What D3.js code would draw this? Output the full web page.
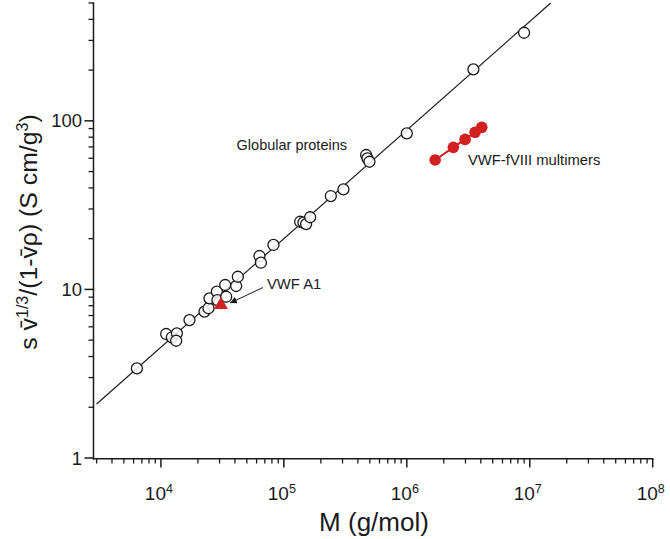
<!DOCTYPE html>
<html><head><meta charset="utf-8">
<script src="https://cdn.jsdelivr.net/npm/d3@7"></script>
<style>body{margin:0;background:#fff}svg{display:block}text{font-family:Arial,"Liberation Sans",sans-serif;fill:#1a1a1a}</style>
</head><body><div id="chart"></div>
<script>
// Globular proteins (M in g/mol, s-value quantity)
const globM = [6380,11040,12280,13490,13310,17080,22620,24370,24840,28520,28840,33340,33960,40940,42240,63350,65060,82290,135700,144300,151700,163600,241000,305200,466900,478600,496800,1000000,3480000,8990000];
const globS = [3.40,5.44,5.20,5.49,4.96,6.58,7.38,7.73,8.85,9.69,8.65,10.62,9.05,10.48,11.89,15.78,14.4,18.35,25.2,24.9,24.4,26.8,35.8,39.2,62.7,59.9,57.2,84.3,202,333];
// VWF A1
const a1M = [30760];
const a1S = [8.08];
// VWF-fVIII multimers
const multM = [1700000,2390000,2980000,3590000,4070000];
const multS = [58.6,69.6,77.6,85.5,91.5];
// fitted line endpoints
const fitM = [3000, 14800000];
const fitS = [2.09, 500];
// ticks
const xTicks = [1e4,1e5,1e6,1e7,1e8];
const xTickExp = ["4","5","6","7","8"];
const yTicks = [1,10,100];
const yTickLabels = ["1","10","100"];

const W=670,H=539;
const svg=d3.select("#chart").append("svg").attr("width",W).attr("height",H);
const x=d3.scaleLog().domain([2830,1e8]).range([93.5,652.7]);
const y=d3.scaleLog().domain([1,500]).range([458,3]);
const ink="#1a1a1a";

// minor ticks
const xMinor=[];
for(let e=3;e<8;e++)for(let k=1;k<10;k++){const v=k*Math.pow(10,e);if(v>=x.domain()[0]&&v<=1e8&&k!==1)xMinor.push(v);}
const yMinor=[];
for(let e=0;e<3;e++)for(let k=2;k<10;k++){const v=k*Math.pow(10,e);if(v<=500)yMinor.push(v);}

const gx=svg.append("g");
gx.append("line").attr("x1",x.range()[0]-0.8).attr("x2",x.range()[1]+0.8).attr("y1",458.7).attr("y2",458.7).attr("stroke",ink).attr("stroke-width",1.5);
gx.selectAll(".mx").data(xMinor).join("line").attr("x1",d=>x(d)).attr("x2",d=>x(d)).attr("y1",458.7).attr("y2",463.5).attr("stroke",ink).attr("stroke-width",1.3);
gx.selectAll(".Mx").data(xTicks).join("line").attr("x1",d=>x(d)).attr("x2",d=>x(d)).attr("y1",458.7).attr("y2",467.5).attr("stroke",ink).attr("stroke-width",1.5);
const xl=gx.selectAll(".xl").data(xTicks).join("text").attr("x",d=>x(d)-2).attr("y",500).attr("text-anchor","middle").attr("font-size",19);
xl.append("tspan").text("10");
xl.append("tspan").attr("dy",-7.5).attr("font-size",12.5).text((d,i)=>xTickExp[i]);

const gy=svg.append("g");
gy.append("line").attr("x1",93.5).attr("x2",93.5).attr("y1",y(500)-0.8).attr("y2",458.7+0.8).attr("stroke",ink).attr("stroke-width",1.5);
gy.selectAll(".my").data(yMinor).join("line").attr("x1",88.5).attr("x2",93.5).attr("y1",d=>y(d)).attr("y2",d=>y(d)).attr("stroke",ink).attr("stroke-width",1.3);
gy.selectAll(".My").data(yTicks).join("line").attr("x1",84.5).attr("x2",93.5).attr("y1",d=>y(d)).attr("y2",d=>y(d)).attr("stroke",ink).attr("stroke-width",1.5);
gy.selectAll(".yl").data(yTicks).join("text").attr("x",82).attr("y",d=>y(d)+6.5).attr("text-anchor","end").attr("font-size",18.5).text((d,i)=>yTickLabels[i]);

// axis titles
svg.append("text").attr("x",374).attr("y",531).attr("text-anchor","middle").attr("font-size",26).text("M (g/mol)");
const yt=svg.append("text").attr("transform","translate(37,232) rotate(-90)").attr("text-anchor","middle").attr("font-size",24.8);
yt.append("tspan").text("s v\u0304");
yt.append("tspan").attr("dy",-9.5).attr("font-size",16).text("1/3");
yt.append("tspan").attr("dy",9.5).text("/(1-v\u0304\u03C1) (S cm/g");
yt.append("tspan").attr("dy",-9.5).attr("font-size",16).text("3");
yt.append("tspan").attr("dy",9.5).text(")");

// fit line
const fit=fitM.map((m,i)=>[m,fitS[i]]);
svg.append("path").datum(fit).attr("d",d3.line().x(d=>x(d[0])).y(d=>y(d[1]))).attr("stroke",ink).attr("stroke-width",1.2).attr("fill","none");

// globular proteins
const glob=globM.map((m,i)=>[m,globS[i]]);
svg.selectAll(".g").data(glob).join("circle").attr("cx",d=>x(d[0])).attr("cy",d=>y(d[1])).attr("r",5.5).attr("fill","white").attr("fill-opacity",0.85).attr("stroke",ink).attr("stroke-width",1.3);

// VWF A1 triangle
const red="#d21f1f";
svg.selectAll(".t").data(a1M.map((m,i)=>[m,a1S[i]])).join("path").attr("transform",d=>`translate(${x(d[0])},${y(d[1])})`).attr("d",d3.symbol().type(d3.symbolTriangle).size(85)).attr("fill",red);

// multimers
const mult=multM.map((m,i)=>[m,multS[i]]);
svg.append("path").datum(mult).attr("d",d3.line().x(d=>x(d[0])).y(d=>y(d[1]))).attr("stroke",red).attr("stroke-width",2).attr("fill","none");
svg.selectAll(".m").data(mult).join("circle").attr("cx",d=>x(d[0])).attr("cy",d=>y(d[1])).attr("r",5.8).attr("fill",red);

// annotations
svg.append("text").attr("x",347).attr("y",150).attr("text-anchor","end").attr("font-size",14.5).text("Globular proteins");
svg.append("text").attr("x",468).attr("y",164.5).attr("font-size",14.8).text("VWF-fVIII multimers");
svg.append("text").attr("x",267).attr("y",288.5).attr("font-size",14.8).text("VWF A1");
svg.append("defs").append("marker").attr("id","ah").attr("viewBox","0 0 10 10").attr("refX",10).attr("refY",5).attr("markerWidth",7).attr("markerHeight",7).attr("orient","auto").attr("markerUnits","userSpaceOnUse")
  .append("path").attr("d","M0,0 L10,5 L0,10 Z").attr("fill",ink);
svg.append("line").attr("x1",263).attr("y1",287.5).attr("x2",230).attr("y2",303).attr("stroke",ink).attr("stroke-width",1).attr("marker-end","url(#ah)");
</script></body></html>
